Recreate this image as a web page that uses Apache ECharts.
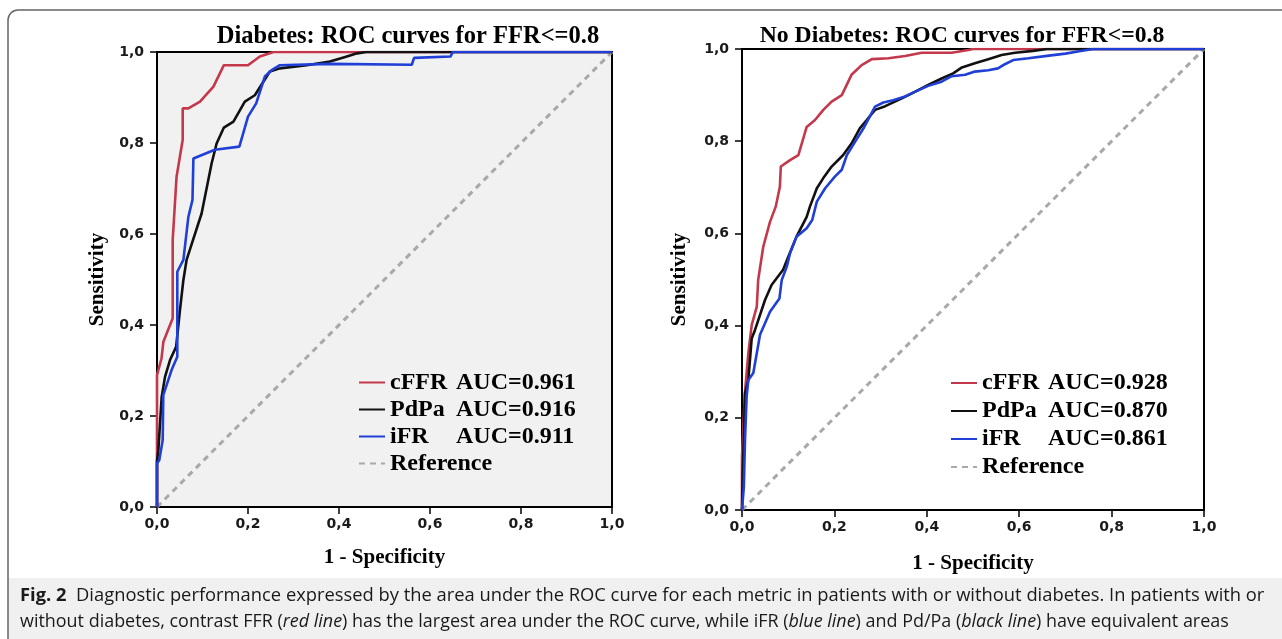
<!DOCTYPE html>
<html><head><meta charset="utf-8">
<script src="https://cdn.jsdelivr.net/npm/echarts@6/dist/echarts.min.js"></script>
<style>html,body{margin:0;padding:0;background:#fff;overflow:hidden}#c{width:1282px;height:639px}</style>
</head><body><div id="c"></div>
<script>
// ---- data ----
const tickValues = [0, 0.2, 0.4, 0.6, 0.8, 1.0];
const panelTitles = ['Diabetes: ROC curves for FFR<=0.8', 'No Diabetes: ROC curves for FFR<=0.8'];
const seriesNames = ['cFFR', 'PdPa', 'iFR', 'Reference'];
const aucDiabetes = ['0.961', '0.916', '0.911'];
const aucNoDiabetes = ['0.928', '0.870', '0.861'];
const referenceLine = [[0, 0], [1, 1]];

const diabetesCFFR = [[0,0],[0,0.29],[0.01,0.327],[0.014,0.363],[0.0345,0.415],[0.0345,0.587],[0.043,0.726],[0.0565,0.807],[0.0565,0.876],[0.069,0.876],[0.0945,0.891],[0.124,0.924],[0.147,0.971],[0.2,0.971],[0.226,0.99],[0.256,1],[1,1]];
const diabetesPdPa = [[0,0],[0,0.1],[0.003,0.125],[0.0103,0.242],[0.0176,0.286],[0.0286,0.323],[0.042,0.352],[0.0505,0.433],[0.058,0.499],[0.065,0.543],[0.098,0.645],[0.12,0.755],[0.131,0.799],[0.147,0.834],[0.168,0.847],[0.193,0.891],[0.215,0.905],[0.248,0.957],[0.27,0.964],[0.329,0.971],[0.38,0.979],[0.41,0.988],[0.44,0.997],[0.46,1],[1,1]];
const diabetesIFR = [[0,0],[0,0.096],[0.005,0.103],[0.0125,0.147],[0.0138,0.246],[0.032,0.301],[0.0446,0.33],[0.0446,0.517],[0.058,0.543],[0.069,0.638],[0.078,0.675],[0.08,0.766],[0.127,0.785],[0.181,0.792],[0.2,0.858],[0.218,0.887],[0.237,0.946],[0.252,0.96],[0.27,0.971],[0.38,0.974],[0.56,0.972],[0.565,0.987],[0.645,0.99],[0.65,1],[1,1]];

const noDiabetesCFFR = [[0,0],[0,0.116],[0.003,0.181],[0.0065,0.257],[0.0137,0.34],[0.021,0.401],[0.032,0.441],[0.035,0.499],[0.046,0.571],[0.0606,0.625],[0.073,0.658],[0.082,0.701],[0.084,0.745],[0.104,0.759],[0.122,0.77],[0.14,0.831],[0.158,0.846],[0.176,0.868],[0.194,0.886],[0.216,0.9],[0.237,0.944],[0.259,0.965],[0.281,0.978],[0.317,0.98],[0.353,0.985],[0.389,0.992],[0.454,0.992],[0.49,0.998],[0.5,1],[1,1]];
const noDiabetesPdPa = [[0,0],[0.0015,0.08],[0.004,0.152],[0.0065,0.253],[0.0137,0.282],[0.021,0.372],[0.028,0.39],[0.05,0.456],[0.064,0.488],[0.089,0.521],[0.1,0.549],[0.118,0.593],[0.14,0.636],[0.147,0.658],[0.162,0.698],[0.176,0.72],[0.194,0.745],[0.219,0.77],[0.237,0.795],[0.255,0.828],[0.27,0.846],[0.288,0.868],[0.31,0.876],[0.346,0.893],[0.374,0.907],[0.403,0.922],[0.432,0.936],[0.457,0.947],[0.476,0.96],[0.504,0.969],[0.533,0.978],[0.562,0.987],[0.591,0.992],[0.63,0.996],[0.66,1],[1,1]];
const noDiabetesIFR = [[0,0],[0.004,0.05],[0.0065,0.152],[0.01,0.246],[0.0137,0.282],[0.0245,0.297],[0.039,0.38],[0.0606,0.43],[0.081,0.459],[0.086,0.499],[0.097,0.528],[0.104,0.557],[0.118,0.593],[0.14,0.611],[0.152,0.629],[0.162,0.669],[0.18,0.698],[0.201,0.723],[0.216,0.738],[0.227,0.77],[0.245,0.799],[0.263,0.828],[0.288,0.875],[0.306,0.884],[0.327,0.889],[0.353,0.897],[0.374,0.907],[0.403,0.92],[0.432,0.929],[0.454,0.941],[0.483,0.944],[0.504,0.951],[0.533,0.954],[0.554,0.958],[0.569,0.967],[0.587,0.976],[0.62,0.98],[0.66,0.985],[0.7,0.99],[0.73,0.995],[0.76,1],[1,1]];

const captionLine1 = ['Fig. 2', '  Diagnostic performance expressed by the area under the ROC curve for each metric in patients with or without diabetes. In patients with or'];
const captionLine2 = ['without diabetes, contrast FFR (', 'red line', ') has the largest area under the ROC curve, while iFR (', 'blue line', ') and Pd/Pa (', 'black line', ') have equivalent areas'];

// ---- styling ----
const RED = '#c4384c', BLACK = '#111111', BLUE = '#1f3fd6', GREY = '#a9a9a9';
const SERIF = '"Liberation Serif", "DejaVu Serif", serif';
const SANS = '"DejaVu Sans", sans-serif';
const CAPFONT = '"Open Sans", "Noto Sans", sans-serif';
const CAPSIZE1 = 18.35, CAPSIZE2 = 17.95;

function fmtTick(v) { return v.toFixed(1).replace('.', ','); }

function makeAxes(idx, isX, gap) {
  return {
    type: 'value', gridIndex: idx, min: 0, max: 1, interval: 0.2,
    name: isX ? '1 - Specificity' : 'Sensitivity',
    nameLocation: 'middle', nameGap: gap,
    nameTextStyle: { fontFamily: SERIF, fontWeight: 'bold', fontSize: 21, color: '#000' },
    axisLine: { show: true, onZero: false, lineStyle: { color: '#000', width: 2 } },
    axisTick: { show: true, length: 7, lineStyle: { color: '#000', width: 1.5 } },
    axisLabel: { margin: isX ? 10 : 13, fontFamily: SANS, fontWeight: 'bold', fontSize: 14, color: '#1a1a1a', formatter: fmtTick },
    splitLine: { show: false }
  };
}

function curve(name, data, color, idx, z) {
  return { type: 'line', name, data, xAxisIndex: idx, yAxisIndex: idx, symbol: 'none', showSymbol: false,
    lineStyle: { color, width: 2.6 }, itemStyle: { color }, z, animation: false };
}
function refLine(idx) {
  return { type: 'line', name: 'Reference', data: referenceLine, xAxisIndex: idx, yAxisIndex: idx, symbol: 'none',
    lineStyle: { color: GREY, width: 3, type: [6, 5] }, itemStyle: { color: GREY }, z: 1, animation: false };
}

function legendFormatter(aucs) {
  return function (n) {
    const i = seriesNames.indexOf(n);
    if (i === 3) return '{r|Reference}';
    return '{n|' + n + '}{v|AUC=' + aucs[i] + '}';
  };
}
function legendCfg(left, top, lh, aucs) {
  const base = { fontFamily: SERIF, fontWeight: 'bold', fontSize: 24, color: '#000', lineHeight: lh };
  return {
    data: seriesNames, orient: 'vertical', left, top, padding: 0, itemGap: 0,
    itemWidth: 26, itemHeight: 14, selectedMode: false,
    itemStyle: { color: 'rgba(0,0,0,0)', borderColor: 'rgba(0,0,0,0)', borderWidth: 0 },
    formatter: legendFormatter(aucs),
    textStyle: Object.assign({}, base, { rich: { n: Object.assign({ width: 66 }, base), v: base, r: base } })
  };
}

const chart = echarts.init(document.getElementById('c'), null, { renderer: 'canvas' });
chart.setOption({
  animation: false,
  backgroundColor: '#ffffff',
  grid: [
    { left: 157, top: 52, width: 455, height: 455, show: true, backgroundColor: '#f1f1f1', borderColor: '#000', borderWidth: 2 },
    { left: 742, top: 49, width: 462, height: 461, show: true, backgroundColor: '#ffffff', borderColor: '#000', borderWidth: 2 }
  ],
  xAxis: [makeAxes(0, true, 40), makeAxes(1, true, 43)],
  yAxis: [makeAxes(0, false, 49), makeAxes(1, false, 52)],
  legend: [legendCfg(358, 369, 27, aucDiabetes), legendCfg(950, 369, 28, aucNoDiabetes)],
  series: [
    refLine(0),
    curve('cFFR', diabetesCFFR, RED, 0, 3),
    curve('PdPa', diabetesPdPa, BLACK, 0, 4),
    curve('iFR', diabetesIFR, BLUE, 0, 5),
    refLine(1),
    curve('cFFR', noDiabetesCFFR, RED, 1, 3),
    curve('PdPa', noDiabetesPdPa, BLACK, 1, 4),
    curve('iFR', noDiabetesIFR, BLUE, 1, 5)
  ],
  graphic: [
    { type: 'rect', z: -10, shape: { x: 8, y: 578, width: 1300, height: 80 }, style: { fill: '#f0f0f0' } },
    { type: 'rect', z: 100, shape: { x: 8, y: 10, width: 1300, height: 700, r: 10 }, style: { fill: 'none', stroke: '#666', lineWidth: 1.5 } },
    { type: 'text', x: 408, y: 37, style: { text: panelTitles[0], fontFamily: SERIF, fontWeight: 'bold', fontSize: 24.5, fill: '#000', align: 'center', verticalAlign: 'middle' } },
    { type: 'text', x: 962, y: 36, style: { text: panelTitles[1], fontFamily: SERIF, fontWeight: 'bold', fontSize: 23.7, fill: '#000', align: 'center', verticalAlign: 'middle' } },
    { type: 'text', x: 20, y: 596, style: {
        text: '{b|' + captionLine1[0] + '}' + captionLine1[1],
        fontFamily: CAPFONT, fontSize: CAPSIZE1, fill: '#1a1a1a', verticalAlign: 'middle',
        rich: { b: { fontFamily: CAPFONT, fontSize: CAPSIZE1, fontWeight: 'bold', fill: '#1a1a1a' } } } },
    { type: 'text', x: 20, y: 622, style: {
        text: captionLine2.map((s, i) => i % 2 ? '{i|' + s + '}' : s).join(''),
        fontFamily: CAPFONT, fontSize: CAPSIZE2, fill: '#1a1a1a', verticalAlign: 'middle',
        rich: { i: { fontFamily: CAPFONT, fontSize: CAPSIZE2, fontStyle: 'italic', fill: '#1a1a1a' } } } }
  ]
});
</script></body></html>
